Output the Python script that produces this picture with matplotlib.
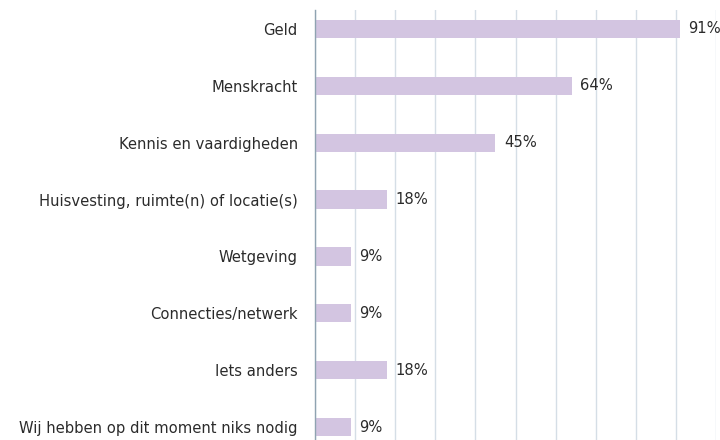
import matplotlib
matplotlib.use("Agg")
import matplotlib.pyplot as plt

categories = [
    "Geld",
    "Menskracht",
    "Kennis en vaardigheden",
    "Huisvesting, ruimte(n) of locatie(s)",
    "Wetgeving",
    "Connecties/netwerk",
    "Iets anders",
    "Wij hebben op dit moment niks nodig",
]
values = [91, 64, 45, 18, 9, 9, 18, 9]

plt.rcParams['font.family'] = ['DejaVu Sans']

fig = plt.figure(figsize=(7.2, 4.4), dpi=100)
ax = fig.add_axes([315 / 720, 0, 401 / 720, 430 / 440])

pos = list(range(len(categories)))
ax.barh(pos, values, height=0.32, color="#d3c5e1", zorder=2)

for p, v in zip(pos, values):
    ax.text(v + 2.1, p, f"{v}%", va="center", ha="left", fontsize=10.6, color="#2b2b2b", zorder=3)

ax.set_xlim(0, 100)
ax.set_ylim(7 + 13 / 57, -19 / 57)
ax.set_xticks(range(0, 101, 10))
ax.set_yticks(pos)
ax.set_yticklabels(categories, fontsize=10.6, color="#2b2b2b")
ax.tick_params(axis="y", length=0, pad=12.5)
ax.tick_params(axis="x", length=0, labelbottom=False)
ax.grid(axis="x", color="#d5dee6", linewidth=1, zorder=0)
for s in ["top", "right", "bottom"]:
    ax.spines[s].set_visible(False)
ax.spines["left"].set_color("#8fa3b1")
ax.spines["left"].set_linewidth(1)
ax.set_axisbelow(True)

fig.savefig("out.png", dpi=100)
